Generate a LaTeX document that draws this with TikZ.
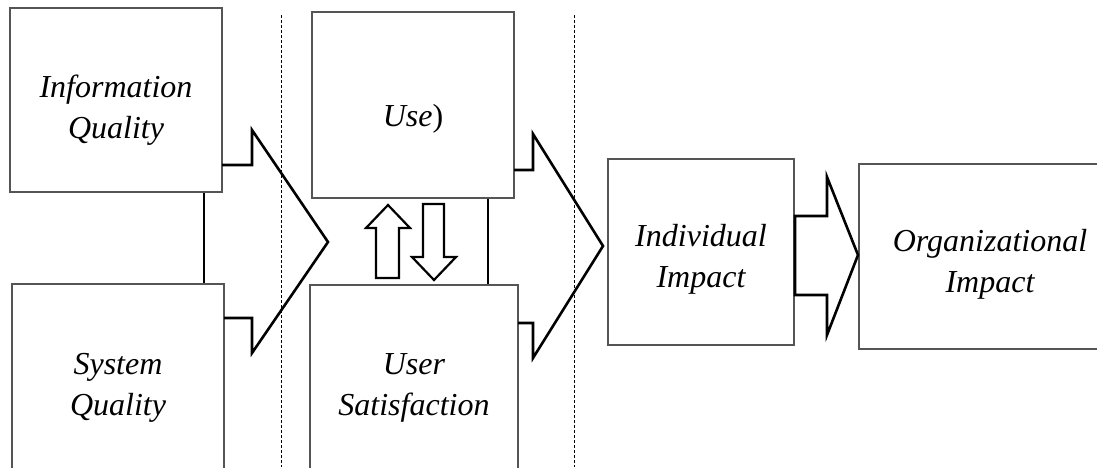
\documentclass[tikz,border=0pt]{standalone}
\usepackage{fontspec}
\setmainfont{Liberation Serif}
\usepackage{xcolor}
\usepackage{tikz}

\definecolor{boxgray}{RGB}{85,85,85}

\tikzset{
  block/.style={draw=boxgray, line width=2pt, inner sep=0pt},
  blocktext/.style={align=center, inner sep=0pt,
    font=\fontsize{32}{41}\selectfont\itshape},
  fatarrow/.style={draw=black, line width=2.6pt},
  stage/.style={draw=black, line width=1pt, dash pattern=on 3pt off 2pt}
}

\begin{document}
\begin{tikzpicture}[x=1pt,y=-1pt]

\useasboundingbox (0,0) rectangle (1097,467);
\clip (0,0) rectangle (1097,467);

% stage separators
\coordinate (s1top) at (281,15);
\coordinate (s1bot) at (281,467);
\coordinate (s2top) at (574,15);
\coordinate (s2bot) at (574,467);
\draw[stage] (s1top) -- (s1bot);
\draw[stage] (s2top) -- (s2bot);

% boxes
\node[block, minimum width=212pt, minimum height=184pt] (info) at (116,100) {};
\node[block, minimum width=212pt, minimum height=198pt] (sysq) at (118,383) {};
\node[block, minimum width=202pt, minimum height=186pt] (use) at (413,105) {};
\node[block, minimum width=208pt, minimum height=198pt] (usat) at (414,384) {};
\node[block, minimum width=186pt, minimum height=186pt] (indiv) at (701,252) {};
\node[block, minimum width=262pt, minimum height=185pt] (org) at (990,256) {};

% box texts
\node[blocktext] (infotext) at ([yshift=-10pt]info.center) {Information\\Quality};
\node[blocktext] (sysqtext) at ([yshift=-5pt]sysq.center) {System\\Quality};
\node[blocktext] (usetext) at ([yshift=-14pt]use.center) {Use\upshape)};
\node[blocktext] (usattext) at ([yshift=-4pt]usat.center) {User\\Satisfaction};
\node[blocktext] (indivtext) at ([yshift=-7pt]indiv.center) {Individual\\Impact};
\node[blocktext] (orgtext) at ([yshift=-8pt]org.center) {Organizational\\Impact};

% links between the stacked boxes
\coordinate (c1) at (204,0);
\coordinate (c2) at (488,0);
\draw[fatarrow, line width=2.2pt] (info.south -| c1) -- (sysq.north -| c1);
\draw[fatarrow, line width=2.2pt] (use.south -| c2) -- (usat.north -| c2);

% big arrows
\draw[fatarrow] (222,165) -- (252,165) -- (252,130) -- (328,242)
  -- (252,353) -- (252,318) -- (224,318);
\draw[fatarrow] (514,170) -- (533,170) -- (533,134) -- (603,246)
  -- (533,358) -- (533,323) -- (518,323);
\draw[fatarrow] (795,216) -- (827,216) -- (827,177) -- (858,255)
  -- (827,335) -- (827,295) -- (795,295) -- cycle;

% up and down arrows between use and satisfaction
\draw[fatarrow, line width=2.2pt] (376,278) -- (376,228) -- (366,228) -- (388,205)
  -- (410,228) -- (399,228) -- (399,278) -- cycle;
\draw[fatarrow, line width=2.2pt] (423,204) -- (444,204) -- (444,257) -- (456,257)
  -- (434,280) -- (412,257) -- (423,257) -- cycle;

\end{tikzpicture}
\end{document}
